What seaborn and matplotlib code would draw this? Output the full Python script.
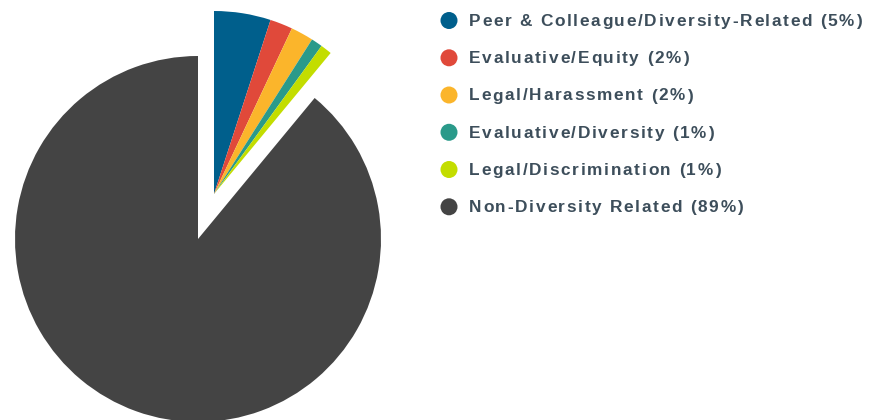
import matplotlib
matplotlib.use("Agg")
import matplotlib.pyplot as plt
import seaborn as sns
from matplotlib.font_manager import FontProperties
from matplotlib.textpath import TextToPath

# Category shares (percent)
categories = [
    "Peer & Colleague/Diversity-Related",
    "Evaluative/Equity",
    "Legal/Harassment",
    "Evaluative/Diversity",
    "Legal/Discrimination",
    "Non-Diversity Related",
]
shares = [5, 2, 2, 1, 1, 89]
colors = ["#005f8c", "#e0493a", "#fbb52b", "#2a9a8a", "#c3dd00", "#444444"]

sns.set_theme(style="white")
plt.rcParams["font.family"] = ["Liberation Sans", "DejaVu Sans"]

W, H, DPI = 871, 420, 100
fig = plt.figure(figsize=(W / DPI, H / DPI), dpi=DPI)
fig.patch.set_facecolor("white")

# Pie axes spanning the full figure, scaled so one data unit = R pixels
cx, cy, R = 198, 239, 183
ax = fig.add_axes([0, 0, 1, 1])
wedges, _ = ax.pie(shares, colors=colors, startangle=90, counterclock=False,
                   wedgeprops=dict(linewidth=0))
# Pull the diversity-related group out together as one block
dx, dy = 16 / R, 45 / R
for w in wedges[:5]:
    w.set_center((dx, dy))
ax.set_aspect("auto")
ax.set_xlim(-cx / R, (W - cx) / R)
ax.set_ylim((cy - H) / R, cy / R)
ax.axis("off")

# Legend drawn in pixel coordinates with letter-spaced labels
lg = fig.add_axes([0, 0, 1, 1])
lg.set_xlim(0, W)
lg.set_ylim(H, 0)
lg.axis("off")
lg.patch.set_alpha(0)

fsize = 12.4
prop = FontProperties(family="Liberation Sans", weight="bold", size=fsize)
t2p = TextToPath()
track = 1.7  # extra pixels between characters


def text_px(s):
    if not s:
        return 0.0
    w, _, _ = t2p.get_text_width_height_descent(s, prop, ismath=False)
    return w * DPI / 72.0


baselines = [26, 63.3, 100.5, 137.8, 175, 212.3]
for name, val, col, yb in zip(categories, shares, colors, baselines):
    lg.scatter([449], [yb - 5.5], s=150, color=col, edgecolors="none")
    label = f"{name} ({val}%)"
    for i, ch in enumerate(label):
        x = 469 + text_px(label[:i]) + i * track
        lg.text(x, yb, ch, fontproperties=prop, color="#3d4e5b",
                va="baseline", ha="left")

fig.savefig("out.png", dpi=DPI)
